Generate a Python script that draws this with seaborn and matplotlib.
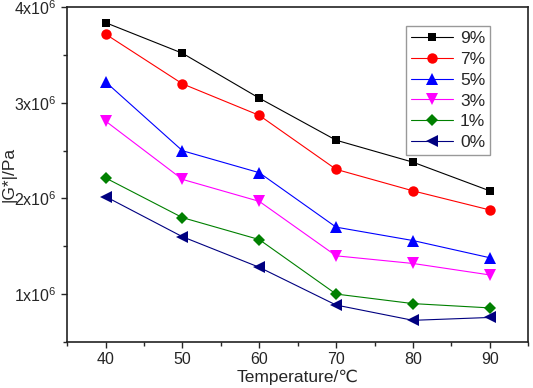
import numpy as np
import pandas as pd
import matplotlib
matplotlib.use('Agg')
import matplotlib.pyplot as plt
import seaborn as sns
from matplotlib.ticker import MultipleLocator, FuncFormatter

sns.set_style('ticks')
plt.rcParams['font.family'] = ['Liberation Sans', 'DejaVu Sans']
plt.rcParams['mathtext.fontset'] = 'custom'
plt.rcParams['mathtext.rm'] = 'Liberation Sans'

temperature = [40, 50, 60, 70, 80, 90]
labels = ['9%', '7%', '5%', '3%', '1%', '0%']
g9 = [3.84e6, 3.52e6, 3.05e6, 2.61e6, 2.38e6, 2.08e6]
g7 = [3.72e6, 3.20e6, 2.87e6, 2.305e6, 2.08e6, 1.88e6]
g5 = [3.22e6, 2.50e6, 2.27e6, 1.70e6, 1.56e6, 1.38e6]
g3 = [2.81e6, 2.20e6, 1.97e6, 1.40e6, 1.32e6, 1.20e6]
g1 = [2.215e6, 1.80e6, 1.57e6, 1.00e6, 0.90e6, 0.855e6]
g0 = [2.02e6, 1.60e6, 1.28e6, 0.885e6, 0.725e6, 0.755e6]

series = [g9, g7, g5, g3, g1, g0]
colors = ['black', 'red', 'blue', 'magenta', 'green', 'navy']
markers = ['s', 'o', '^', 'v', 'D', '<']
msizes = [6, 7.5, 8, 8, 6.5, 8]

fig = plt.figure(figsize=(5.33, 3.88), dpi=100)
ax = fig.add_axes([0.126, 0.119, 0.865, 0.862])

for vals, lab, c, m, ms in zip(series, labels, colors, markers, msizes):
    df = pd.DataFrame({'T': temperature, 'G': vals})
    sns.lineplot(data=df, x='T', y='G', ax=ax, color=c, marker=m, markersize=ms,
                 markeredgewidth=0, linewidth=0.8, label=lab)

ax.set_xlim(35, 95)
ax.set_ylim(0.5e6, 4e6)
ax.xaxis.set_major_locator(MultipleLocator(10))
ax.xaxis.set_minor_locator(MultipleLocator(5))
ax.yaxis.set_major_locator(MultipleLocator(1e6))
ax.yaxis.set_minor_locator(MultipleLocator(0.5e6))
ax.yaxis.set_major_formatter(FuncFormatter(lambda v, p: r'%dx10$^{6}$' % round(v / 1e6)))
ax.tick_params(which='major', direction='out', length=4, width=1, labelsize=11.5)
ax.tick_params(which='minor', direction='out', length=3, width=1)
for s in ax.spines.values():
    s.set_linewidth(1.2)
    s.set_color('#222222')

ax.set_xlabel('Temperature/℃', fontsize=12.5, labelpad=2)
ax.set_ylabel('|G*|/Pa', fontsize=12.5)
ax.yaxis.set_label_coords(-0.110, 0.5)

leg = ax.legend(loc='upper right', bbox_to_anchor=(0.937, 0.97), fontsize=12.5,
                frameon=True, fancybox=False, edgecolor='gray', handlelength=2.4,
                handletextpad=0.4, labelspacing=0.32, borderpad=0.3)
leg.get_frame().set_linewidth(1)

fig.savefig('out.png', dpi=100)
